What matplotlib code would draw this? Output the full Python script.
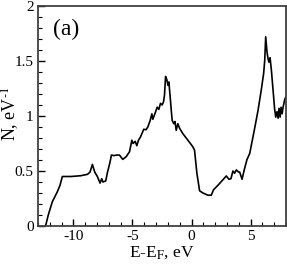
import matplotlib
matplotlib.use("Agg")
import matplotlib.pyplot as plt
from matplotlib.ticker import MultipleLocator, FormatStrFormatter

plt.rcParams['font.family'] = ['Liberation Serif', 'DejaVu Serif']
plt.rcParams['axes.unicode_minus'] = False
plt.rcParams['mathtext.fontset'] = 'stix'

# energy (eV) relative to Fermi level, density of states (1/eV)
energy = [-12.35, -12.12, -11.78, -11.36, -11.13, -10.93, -10.2, -9.38, -8.8, -8.59,
          -8.39, -8.19, -7.97, -7.74, -7.6, -7.5, -7.26, -7.12, -6.92, -6.78,
          -6.55, -6.36, -6.1, -5.82, -5.53, -5.25, -5.05, -4.95, -4.77, -4.63,
          -4.49, -4.32, -4.04, -3.85, -3.7, -3.5, -3.36, -3.28, -3.14, -2.91,
          -2.77, -2.63, -2.49, -2.37, -2.29, -2.2, -2.09, -2.0, -1.92, -1.81,
          -1.72, -1.64, -1.5, -1.4, -1.3, -1.16, -1.02, -0.74, -0.31, 0.11,
          0.25, 0.45, 0.68, 0.96, 1.38, 1.67, 1.86, 2.23, 2.65, 2.94,
          3.16, 3.33, 3.5, 3.64, 3.79, 3.98, 4.07, 4.27, 4.49, 4.69,
          4.92, 5.34, 5.62, 5.9, 6.1, 6.19, 6.27, 6.38, 6.47, 6.55,
          6.64, 6.75, 6.89, 7.03, 7.12, 7.23, 7.32, 7.4, 7.49, 7.57,
          7.66, 7.74, 7.88, 8.0]
dos = [0.0, 0.1, 0.22, 0.31, 0.37, 0.45, 0.45, 0.457, 0.47, 0.49,
       0.56, 0.49, 0.45, 0.39, 0.43, 0.40, 0.41, 0.485, 0.57, 0.645,
       0.64, 0.645, 0.645, 0.606, 0.63, 0.675, 0.78, 0.75, 0.77, 0.73,
       0.78, 0.81, 0.88, 0.875, 0.90, 0.96, 1.02, 0.97, 1.01, 1.08,
       1.06, 1.115, 1.10, 1.13, 1.19, 1.36, 1.33, 1.28, 1.31, 1.175,
       1.055, 0.96, 0.93, 0.95, 0.87, 0.93, 0.89, 0.84, 0.78, 0.72,
       0.69, 0.48, 0.32, 0.30, 0.28, 0.28, 0.33, 0.37, 0.42, 0.455,
       0.425, 0.43, 0.50, 0.48, 0.51, 0.49, 0.49, 0.425, 0.525, 0.605,
       0.66, 0.89, 1.05, 1.24, 1.39, 1.51, 1.72, 1.585, 1.52, 1.49,
       1.53, 1.42, 1.24, 1.06, 0.99, 1.04, 0.98, 1.07, 0.99, 1.08,
       1.02, 1.08, 1.15, 1.18]

fig = plt.figure(figsize=(2.87, 2.64), dpi=100)
ax = fig.add_axes([0.132, 0.144, 0.865, 0.833])
ax.plot(energy, dos, color='black', lw=1.2)

ax.set_xlim(-13, 8)
ax.set_ylim(0, 2)
ax.xaxis.set_major_locator(MultipleLocator(5))
ax.xaxis.set_minor_locator(MultipleLocator(1))
ax.yaxis.set_major_locator(MultipleLocator(0.5))
ax.yaxis.set_minor_locator(MultipleLocator(0.1))
ax.xaxis.set_major_formatter(FormatStrFormatter('%g'))
ax.yaxis.set_major_formatter(FormatStrFormatter('%g'))
ax.tick_params(which='both', direction='in', top=False, right=False, labelsize=11, pad=3)
ax.tick_params(which='major', length=5, width=1)
ax.tick_params(which='minor', length=3, width=0.8)
for s in ax.spines.values():
    s.set_linewidth(1.3)
    s.set_color('0.25')

ax.set_xlabel('E-E$_\\mathrm{F}$, eV', fontsize=12.5, labelpad=1)
ax.set_ylabel('N, eV$^{\\text{-}1}$', fontsize=13)
ax.yaxis.set_label_coords(-0.07, 0.51)
ax.text(0.113, 0.895, '(a)', transform=ax.transAxes, fontsize=17, ha='center', va='center')

fig.savefig('out.png', dpi=100)
